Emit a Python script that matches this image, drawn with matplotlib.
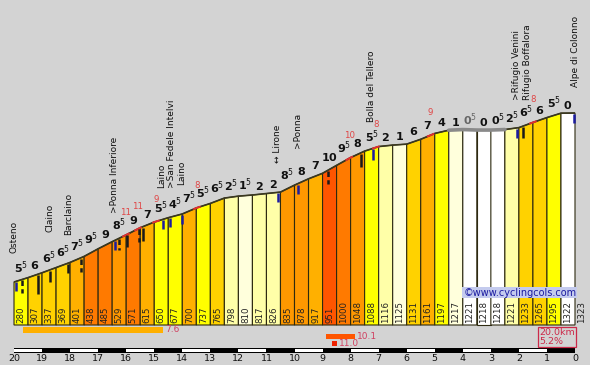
import matplotlib
matplotlib.use("Agg")
import matplotlib.pyplot as plt
from matplotlib.patches import Polygon, Rectangle
import numpy as np

# ---------------- data ----------------
altitudes = [280, 307, 337, 369, 401, 438, 485, 529, 571, 615, 650, 677, 700, 737,
             765, 798, 810, 817, 826, 835, 878, 917, 951, 1000, 1048, 1088, 1116,
             1125, 1131, 1161, 1197, 1217, 1221, 1218, 1218, 1221, 1233, 1265, 1295,
             1322, 1323]
gradients = [5.5, 6, 6.5, 6.5, 7.5, 9.5, 9, 8.5, 9, 7, 5.5, 4.5, 7.5, 5.5, 6.5, 2.5,
             1.5, 2, 2, 8.5, 8, 7, 10, 9.5, 8, 5.5, 2, 1, 6, 7, 4, 1, 0.5, 0, 0.5,
             2.5, 6.5, 6, 5.5, 0]
seg_len = 0.5
km_labels = list(range(20, -1, -1))

place_names = ["Osteno", "Claino", "Barclaino", ">Ponna Inferiore", "Laino",
               ">San Fedele Intelvi", "Laino", "\u2194 Lirone", ">Ponna",
               "Bolla del Tellero", ">Rifugio Venini", "Rifugio Boffalora",
               "Alpe di Colonno"]
place_km = [0.0, 1.28, 1.93, 3.6, 5.28, 5.63, 5.96, 9.4, 10.1, 12.76, 17.9, 18.29, 20.0]
place_off = [29, 38, 28, 27, 32, 29, 29, 29, 36, 27, 28, 25, 26]

max_km = [3.99, 4.42, 5.06, 6.52, 11.95, 12.9, 14.85, 18.5]
max_val = [11, 11, 9, 8, 10, 8, 9, 8]

mark_km = [0.07, 0.29, 0.84, 1.28, 1.93, 2.39, 3.6, 3.74, 4.03, 4.46, 4.6, 5.31,
           5.56, 5.99, 9.41, 10.12, 11.19, 12.37, 12.8, 17.93, 18.15, 19.98]
mark_kind = ["b", "kd", "k", "k", "k", "kd", "b", "kd", "k", "kd", "k", "b",
             "b", "b", "b", "b", "kd", "k", "b", "b", "k", "b"]
mark_len = [10, 14, 20, 12, 10, 14, 10, 12, 13, 14, 14, 10, 10, 10, 10, 10, 14,
            14, 12, 10, 12, 10]

grey_section = (15.5, 17.5)

steep_start = [0.32, 11.14, 11.33]
steep_len = [5.0, 1.0, 0.18]
steep_val = [7.6, 10.1, 11.0]

total_km = 20.0
avg_grad = 5.2

# ---------------- layout ----------------
W, H = 590, 365
PX_KM = 28.05
PX_M = 0.162
X0, Y0 = 14, 282          # pixel of start of profile
BG = "#d3d3d3"

def col_color(g, desc=False):
    if desc or g < 1:
        return "#ffffff"
    table = [(10, "#ff5500"), (9, "#ff7a00"), (8, "#ff9800"), (7, "#ffb000"),
             (6, "#ffd200"), (4, "#ffff00"), (3, "#ffff66"), (2, "#ffffa8"),
             (1, "#ffffdc")]
    for t, c in table:
        if g >= t:
            return c
    return "#ffffff"

fig = plt.figure(figsize=(W / 100, H / 100), dpi=100)
fig.patch.set_facecolor(BG)
ax = fig.add_axes([0, 0, 1, 1])
ax.set_facecolor(BG)
ax.axis("off")
a0 = altitudes[0]
ax.set_xlim(-X0 / PX_KM, (W - X0) / PX_KM)
ax.set_ylim(a0 - (H - Y0) / PX_M, a0 + Y0 / PX_M)

def yp(p):  # pixel row -> data y
    return a0 + (Y0 - p) / PX_M

dist = np.arange(len(altitudes)) * seg_len
alt = np.array(altitudes, float)
base = yp(325)

def prof(d):
    return np.interp(d, dist, alt)

# columns
for i, g in enumerate(gradients):
    x0, x1 = dist[i], dist[i + 1]
    desc = alt[i + 1] < alt[i]
    poly = Polygon([(x0, base), (x0, alt[i]), (x1, alt[i + 1]), (x1, base)],
                   closed=True, facecolor=col_color(g, desc), edgecolor="#2e2a10",
                   lw=0.8, zorder=2)
    ax.add_patch(poly)

# profile line
ax.plot(dist, alt, color="#3a3820", lw=1.2, zorder=3, solid_capstyle="butt")
gx = np.linspace(grey_section[0], grey_section[1], 30)
ax.plot(gx, prof(gx), color="#8a8a8a", lw=2.6, zorder=4, solid_capstyle="round")
for k in max_km:
    sx = np.linspace(k - 0.1, k + 0.1, 10)
    ax.plot(sx, prof(sx), color="#e03030", lw=1.4, zorder=4)

# altitude labels in columns
for i, a in enumerate(altitudes):
    ax.text(dist[i] + seg_len / 2, yp(323), f"{a}", rotation=90, ha="center",
            va="bottom", fontsize=6.2, color="#222222", zorder=5)

# gradient labels
for i, g in enumerate(gradients):
    top = max(alt[i], alt[i + 1])
    ip = int(g)
    if g - ip > 0.01:
        s = r"$\mathbf{%d}^{\mathsf{5}}$" % ip
    else:
        s = r"$\mathbf{%d}$" % ip
    c = "#666666" if alt[i + 1] < alt[i] else "#111111"
    ax.text(dist[i] + seg_len / 2, top + 2.0 / PX_M, s, ha="center", va="bottom",
            fontsize=8, color=c, zorder=6)

# max gradient labels
for k, v in zip(max_km, max_val):
    ax.text(k, prof(k) + 22.5 / PX_M, f"{v}", ha="center", va="center",
            fontsize=6.2, color="#e04545", zorder=6)

# place names
for n, k, o in zip(place_names, place_km, place_off):
    ax.text(k, prof(k) + o / PX_M, n, rotation=90, ha="center", va="bottom",
            fontsize=6.5, color="#111111", zorder=6)

# waypoint marks
for k, kind, L in zip(mark_km, mark_kind, mark_len):
    y1 = prof(k) - 1 / PX_M
    y2 = prof(k) - L / PX_M
    col = "#1c1ca0" if kind == "b" else "#1a1a1a"
    ls = (0, (2.2, 1.3)) if kind == "kd" else "-"
    ax.plot([k, k], [y1, y2], color=col, lw=1.8, ls=ls, zorder=7,
            solid_capstyle="butt")

# steepest sections bars
steep_cols = [col_color(v) for v in steep_val[:2]] + ["#ee2200"]
bar_rows = [(327, 333), (334, 339), (341, 346)]
for (s, l, v, c, (r0, r1)) in zip(steep_start, steep_len, steep_val, steep_cols, bar_rows):
    ax.add_patch(Rectangle((s, yp(r1)), l, yp(r0) - yp(r1), facecolor=c,
                           edgecolor="none", zorder=3))
    ax.text(s + l + 0.08, yp((r0 + r1) / 2), f"{v:.1f}", ha="left", va="center",
            fontsize=6.5, color="#d04060", zorder=4)

# summary box
ax.text(total_km - 1.29, yp(337), f"{total_km:.1f}km\n{avg_grad:.1f}%",
        ha="left", va="center", fontsize=6.8, color="#cc2a4a", linespacing=0.95,
        zorder=5,
        bbox=dict(boxstyle="square,pad=0.12", facecolor=BG, edgecolor="#cc2a4a", lw=0.9))

# watermark
ax.text(total_km + 0.05, yp(292.5), "\u00a9www.cyclingcols.com", ha="right",
        va="center", fontsize=7, color="#1a1aa0", zorder=8,
        bbox=dict(boxstyle="square,pad=0.1", facecolor="#c4cbee", edgecolor="none"))

# km scale
ax.add_patch(Rectangle((0, yp(353)), total_km, yp(348) - yp(353), facecolor="#000000",
                       edgecolor="none", zorder=3))
for j in range(0, 20, 2):
    ax.add_patch(Rectangle((j, yp(352)), 1, yp(349) - yp(352), facecolor="#ffffff",
                           edgecolor="none", zorder=4))
for j, lab in enumerate(km_labels):
    ax.text(j, yp(358.5), f"{lab}", ha="center", va="center", fontsize=6.8,
            color="#111111")

fig.savefig("out.png", dpi=100, facecolor=BG)
